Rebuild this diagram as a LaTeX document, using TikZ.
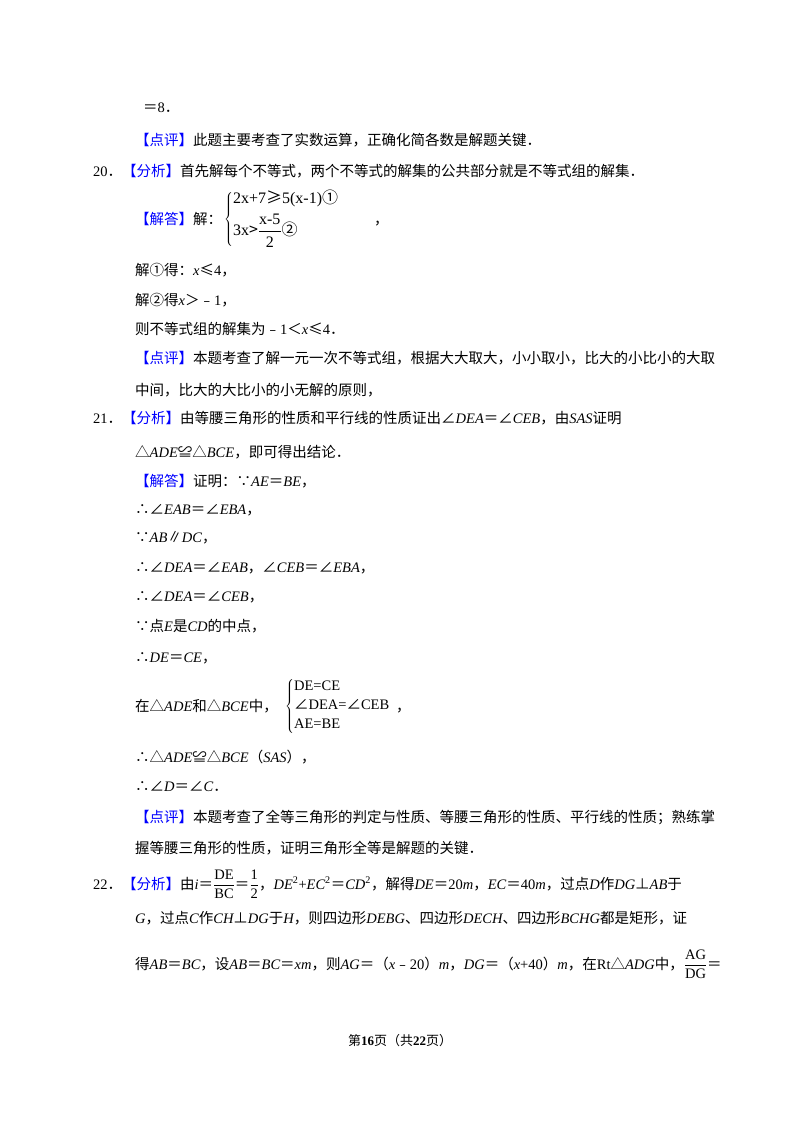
\documentclass[tikz,border=0pt]{standalone}
\usepackage{fontspec}
\setmainfont{Noto Sans CJK SC}
\newfontfamily\tm{Liberation Serif}
\newcommand\I[1]{{\tm\itshape #1}}
\newcommand\R[1]{{\tm #1}}
\newcommand\Bl[1]{{\color{blue}#1}}
\newcommand\Ln[4]{\node[anchor=base west,inner sep=0pt] (#1) at (#2pt,-#3pt) {#4};}
\begin{document}
\begin{tikzpicture}[every node/.style={font=\fontsize{14.5}{17}\selectfont}]
\useasboundingbox[fill=white] (0,0) rectangle (800pt,-1132pt);
\Ln{a}{143}{112}{＝\R{8}．}
\Ln{b}{135}{145}{\Bl{【点评】}此题主要考查了实数运算，正确化简各数是解题关键．}
\Ln{c}{93}{176}{\R{20}．\Bl{【分析】}首先解每个不等式，两个不等式的解集的公共部分就是不等式组的解集．}
\Ln{d}{135}{224}{\Bl{【解答】}解：}
\node[anchor=west,inner sep=0pt,font=\fontsize{16}{19}\selectfont] (sys1) at (224pt,-219pt) {$\left\{\begin{array}{@{}l@{}}\hbox{\R{2x+7}≥\R{5(x-1)}①}\\[4pt] \hbox{\R{3x}>$\displaystyle\frac{\hbox{\R{x-5}}}{\hbox{\R{2}}}$②}\end{array}\right.$};
\Ln{d2}{374}{224}{，}
\Ln{e}{135}{275}{解①得：\I{x}≤\R{4}，}
\Ln{f}{135}{305}{解②得\I{x}＞﹣\R{1}，}
\Ln{g}{135}{334}{则不等式组的解集为﹣\R{1}＜\I{x}≤\R{4}．}
\Ln{h}{135}{363}{\Bl{【点评】}本题考查了解一元一次不等式组，根据大大取大，小小取小，比大的小比小的大取}
\Ln{i}{135}{395}{中间，比大的大比小的小无解的原则，}
\Ln{j}{93}{423}{\R{21}．\Bl{【分析】}由等腰三角形的性质和平行线的性质证出∠\I{DEA}＝∠\I{CEB}，由\I{SAS}证明}
\Ln{k}{135}{457}{△\I{ADE}≌△\I{BCE}，即可得出结论．}
\Ln{l}{135}{486}{\Bl{【解答】}证明：∵\I{AE}＝\I{BE}，}
\Ln{m}{135}{514}{∴∠\I{EAB}＝∠\I{EBA}，}
\Ln{n}{135}{542}{∵\I{AB}∥\I{DC}，}
\Ln{o}{135}{572}{∴∠\I{DEA}＝∠\I{EAB}，∠\I{CEB}＝∠\I{EBA}，}
\Ln{p}{135}{601}{∴∠\I{DEA}＝∠\I{CEB}，}
\Ln{q}{135}{631}{∵点\I{E}是\I{CD}的中点，}
\Ln{r}{135}{662}{∴\I{DE}＝\I{CE}，}
\Ln{s}{135}{711}{在△\I{ADE}和△\I{BCE}中，}
\node[anchor=west,inner sep=0pt] (sys2) at (285pt,-706pt) {$\left\{\begin{array}{@{}l@{}}\hbox{\R{DE=CE}}\\[2pt]\hbox{∠\R{DEA=}∠\R{CEB}}\\[2pt]\hbox{\R{AE=BE}}\end{array}\right.$};
\Ln{s2}{396}{711}{，}
\Ln{t}{135}{762}{∴△\I{ADE}≌△\I{BCE}（\I{SAS}），}
\Ln{u}{135}{791}{∴∠\I{D}＝∠\I{C}．}
\Ln{v}{135}{822}{\Bl{【点评】}本题考查了全等三角形的判定与性质、等腰三角形的性质、平行线的性质；熟练掌}
\Ln{w}{135}{853}{握等腰三角形的性质，证明三角形全等是解题的关键．}
\Ln{x}{93}{889}{\R{22}．\Bl{【分析】}由\I{i}＝$\displaystyle\frac{\hbox{\R{DE}}}{\hbox{\R{BC}}}$＝$\displaystyle\frac{\hbox{\R{1}}}{\hbox{\R{2}}}$，\I{DE}\textsuperscript{\R{2}}\R{+}\I{EC}\textsuperscript{\R{2}}＝\I{CD}\textsuperscript{\R{2}}，解得\I{DE}＝\R{20}\I{m}，\I{EC}＝\R{40}\I{m}，过点\I{D}作\I{DG}⊥\I{AB}于}
\Ln{y}{135}{923}{\I{G}，过点\I{C}作\I{CH}⊥\I{DG}于\I{H}，则四边形\I{DEBG}、四边形\I{DECH}、四边形\I{BCHG}都是矩形，证}
\Ln{z}{135}{969}{得\I{AB}＝\I{BC}，设\I{AB}＝\I{BC}＝\I{xm}，则\I{AG}＝（\I{x}﹣\R{20}）\I{m}，\I{DG}＝（\I{x}\R{+40}）\I{m}，在\R{Rt}△\I{ADG}中，$\displaystyle\frac{\hbox{\R{AG}}}{\hbox{\R{DG}}}$＝}
\node[font=\fontsize{13}{15}\selectfont] (ft) at (400pt,-1041pt) {第\textbf{\R{16}}页（共\textbf{\R{22}}页）};
\end{tikzpicture}
\end{document}
